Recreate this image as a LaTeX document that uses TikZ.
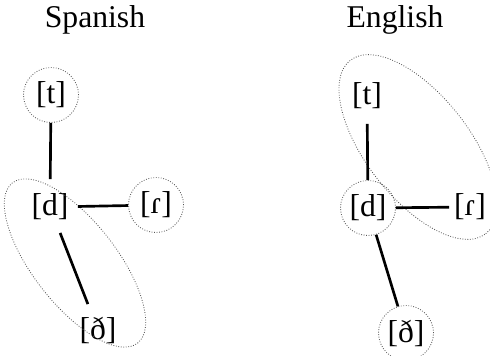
\documentclass[tikz,border=0pt]{standalone}
\usepackage{fontspec}
\setmainfont{Liberation Serif}
\usepackage{tikz}
\usetikzlibrary{shapes.geometric}
\definecolor{ringgray}{HTML}{555555}
\tikzset{
  seg/.style={circle,minimum size=33pt,inner sep=0pt,font=\fontsize{19}{21}\selectfont},
  ring/.style={draw=ringgray,densely dotted,line width=0.5pt},
  link/.style={line width=1.6pt},
  lang/.style={anchor=base,font=\fontsize{19}{21}\selectfont}
}

\begin{document}
\begin{tikzpicture}[x=0.6pt,y=-0.6pt]
\useasboundingbox (0,0) rectangle (490,355);
% Spanish
\node[lang] (es) at (95,27) {Spanish};
\node[seg,ring] (es-t) at (51,95) {[t]};
\node[seg] (es-d) at (50,207) {[d]};
\node[seg,ring] (es-r) at (156,205) {[ɾ]};
\node[seg] (es-dh) at (98,330) {[ð]};
\node[ring,ellipse,minimum width=122pt,minimum height=50pt,rotate=-52] (es-set) at (75,263) {};
\draw[link] (es-t)--(es-d); \draw[link] (es-d)--(es-r); \draw[link] (es-d)--(es-dh);
% English
\node[lang] (en) at (395,27) {English};
\node[seg] (en-t) at (367,96) {[t]};
\node[seg,ring] (en-d) at (368,208) {[d]};
\node[seg,minimum size=24pt] (en-r) at (470,207) {[ɾ]};
\node[seg,ring] (en-dh) at (406,333) {[ð]};
\node[ring,ellipse,minimum width=132pt,minimum height=62pt,rotate=-52] (en-set) at (418,147) {};
\draw[link] (en-t)--(en-d); \draw[link] (en-d)--(en-r); \draw[link] (en-d)--(en-dh);
\end{tikzpicture}
\end{document}
